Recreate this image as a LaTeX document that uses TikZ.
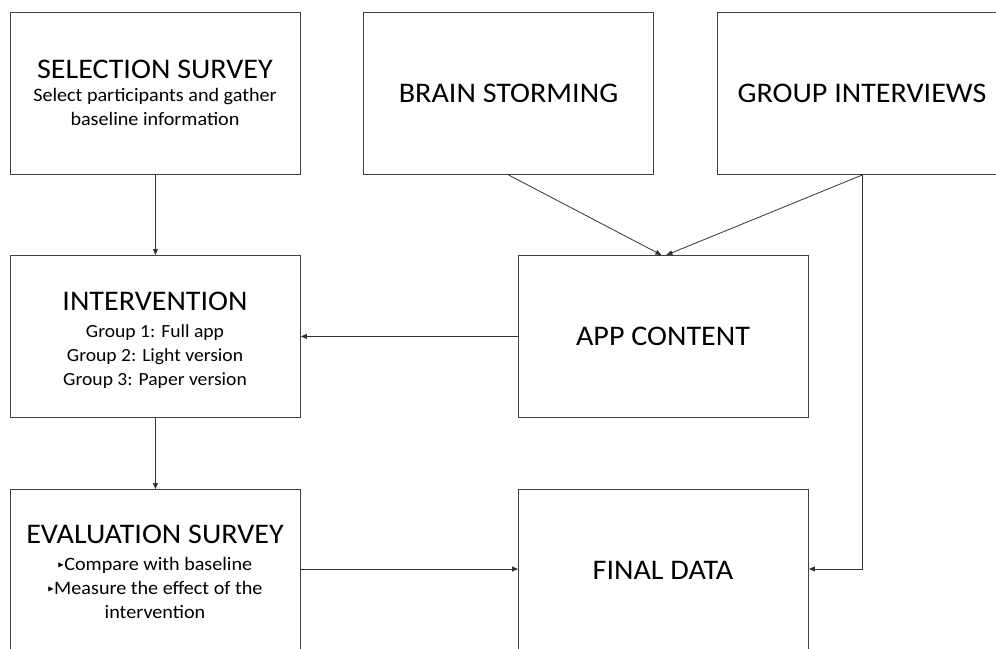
\documentclass[tikz,border=0pt]{standalone}
\usepackage{amssymb}
\usepackage{fontspec}
\setmainfont{Carlito}[FakeStretch=1.06]
\usetikzlibrary{arrows.meta}
\newcommand{\tribul}{\raisebox{0.3ex}{\scalebox{0.45}{$\blacktriangleright$}}}
\begin{document}
\begin{tikzpicture}[x=1pt,y=-1pt,
  box/.style={draw=black!75,line width=0.9pt,minimum width=290pt,minimum height=162pt,inner sep=0pt,anchor=north west},
  title/.style={font=\fontsize{28.4}{32}\selectfont,inner sep=0pt,anchor=base},
  sub/.style={font=\fontsize{19}{23}\selectfont,inner sep=0pt,anchor=base},
  subb/.style={font=\fontsize{18.5}{23}\selectfont,inner sep=0pt,anchor=base},
  conn/.style={draw=black!80,line width=0.8pt,-{Triangle[length=6pt,width=5pt]}}]
\useasboundingbox (0,0) rectangle (996,648);
\node[box] (sel) at (10,12) {};
\node[box] (brain) at (363,12) {};
\node[box] (group) at (717,12) {};
\node[box] (inter) at (10,255) {};
\node[box] (app) at (518,255) {};
\node[box] (eval) at (10,489) {};
\node[box] (final) at (518,489) {};
% texts
\node[title] (selt) at (155,78) {SELECTION SURVEY};
\node[sub] (sel1) at (155,101.5) {Select participants and gather};
\node[sub] (sel2) at (155,125) {baseline information};
\node[title] (braint) at (508.5,102) {BRAIN STORMING};
\node[title] (groupt) at (862,102) {GROUP INTERVIEWS};
\node[title] (intert) at (155,310) {INTERVENTION};
\node[subb] (inter1) at (155,337) {Group 1: Full app};
\node[subb] (inter2) at (155,361) {Group 2: Light version};
\node[subb] (inter3) at (155,385) {Group 3: Paper version};
\node[title] (appt) at (663,345) {APP CONTENT};
\node[title] (evalt) at (155,543) {EVALUATION SURVEY};
\node[sub] (eval1) at (155,570) {\tribul Compare with baseline};
\node[sub] (eval2) at (155,594) {\tribul Measure\ the\ effect\ of\ the};
\node[sub] (eval3) at (155,618) {intervention};
\node[title] (finalt) at (663,579) {FINAL DATA};
% connectors
\draw[conn] (sel.south) -- (inter.north);
\draw[conn] (inter.south) -- (eval.north);
\draw[conn] (app.west) -- (inter.east);
\draw[conn] (eval.east |- 0,569) -- (final.west |- 0,569);
\draw[conn] (brain.south) -- ([xshift=-2pt]app.north);
\draw[conn] (group.south) -- ([xshift=3pt]app.north);
\draw[conn] (group.south) |- (final.east |- 0,569);
\end{tikzpicture}
\end{document}
